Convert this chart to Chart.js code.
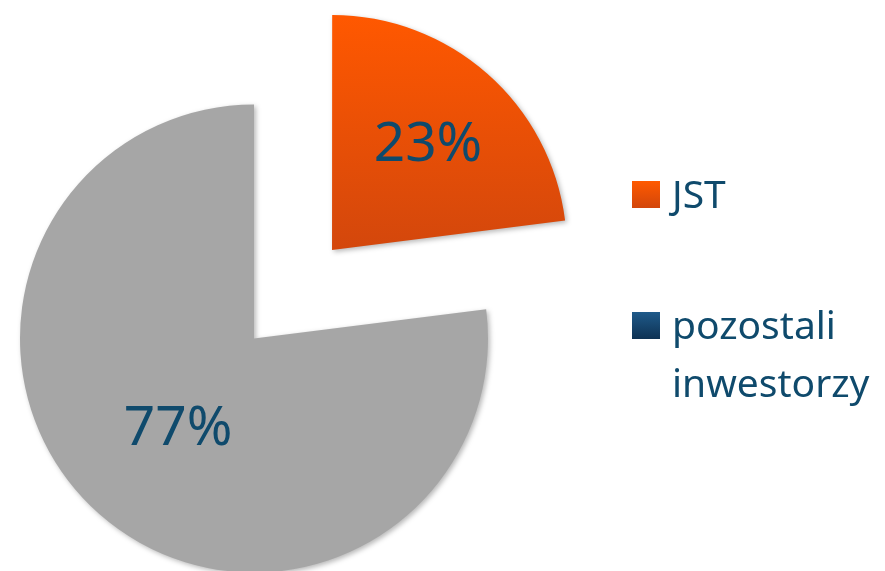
<!DOCTYPE html>
<html>
<head>
<meta charset="utf-8">
<script src="https://cdn.jsdelivr.net/npm/chart.js@4"></script>
<style>
  html, body { margin: 0; padding: 0; background: #fff; }
  #wrap { width: 885px; height: 571px; }
</style>
</head>
<body>
<div id="wrap"><canvas id="pie" width="885" height="571"></canvas></div>
<script>
// data
const categories = ['JST', 'pozostali inwestorzy'];
const shares = [23, 77];
const percentLabels = ['23%', '77%'];

// styling
const sliceTop = ['#FF5800', '#A6A6A6'];
const sliceBottom = ['#D3470C', '#A6A6A6'];
const legendColors = [['#FF5A00', '#D2460B'], ['#1F5A8A', '#0E3253']];
const textColor = '#0F4A6C';
const pieRadius = 234;
const explode = [118, 0];      // px the slice is pulled out
const labelDepth = [0.62, 0.49]; // label distance as part of radius

const labelPlugin = {
  id: 'sliceLabels',
  beforeDatasetsDraw(chart) {
    const ctx = chart.ctx;
    ctx.save();
    ctx.shadowColor = 'rgba(0,0,0,0.28)';
    ctx.shadowBlur = 5;
    ctx.shadowOffsetX = 2;
    ctx.shadowOffsetY = 2;
  },
  afterDatasetsDraw(chart) {
    const ctx = chart.ctx;
    ctx.restore();
    const meta = chart.getDatasetMeta(0);
    ctx.save();
    ctx.font = '55px "Noto Sans"';
    ctx.fillStyle = textColor;
    ctx.textAlign = 'center';
    ctx.textBaseline = 'alphabetic';
    meta.data.forEach((arc, i) => {
      const mid = (arc.startAngle + arc.endAngle) / 2;
      const r = arc.outerRadius * labelDepth[i] + explode[i];
      ctx.fillText(percentLabels[i], arc.x + Math.cos(mid) * r, arc.y + Math.sin(mid) * r + 20);
    });
    ctx.restore();
  }
};

const legendPlugin = {
  id: 'sideLegend',
  afterDraw(chart) {
    const ctx = chart.ctx;
    const boxX = 632, textX = 672, lineH = 58, maxW = 205;
    let baseY = 208;
    ctx.save();
    ctx.font = '39px "Noto Sans"';
    ctx.textBaseline = 'alphabetic';
    ctx.textAlign = 'left';
    categories.forEach((name, i) => {
      // wrap words
      const lines = [];
      let cur = '';
      name.split(' ').forEach(w => {
        const test = cur ? cur + ' ' + w : w;
        if (cur && ctx.measureText(test).width > maxW) { lines.push(cur); cur = w; }
        else cur = test;
      });
      lines.push(cur);

      const g = ctx.createLinearGradient(0, baseY - 27, 0, baseY);
      g.addColorStop(0, legendColors[i][0]);
      g.addColorStop(1, legendColors[i][1]);
      ctx.fillStyle = g;
      ctx.fillRect(boxX, baseY - 27, 28, 27);

      ctx.fillStyle = textColor;
      lines.forEach((ln, k) => ctx.fillText(ln, textX, baseY + k * lineH));
      baseY += 131;
    });
    ctx.restore();
  }
};

const chart = new Chart(document.getElementById('pie'), {
  type: 'pie',
  data: {
    labels: categories,
    datasets: [{
      data: shares,
      backgroundColor: (c) => {
        const ch = c.chart;
        const area = ch.chartArea;
        if (!area) return sliceTop[c.dataIndex];
        const cy = (area.top + area.bottom) / 2;
        const g = ch.ctx.createLinearGradient(0, cy - pieRadius, 0, c.dataIndex === 0 ? cy : cy + pieRadius);
        g.addColorStop(0, sliceTop[c.dataIndex]);
        g.addColorStop(1, sliceBottom[c.dataIndex]);
        return g;
      },
      borderWidth: 0,
      offset: explode.map(v => v * 4),
      hoverOffset: 0,
      clip: false
    }]
  },
  options: {
    responsive: false,
    devicePixelRatio: 1,
    animation: false,
    events: [],
    cutout: '0%',
    radius: pieRadius,
    layout: { padding: { left: 0, right: 377, top: 106, bottom: 0 } },
    plugins: {
      legend: { display: false },
      tooltip: { enabled: false }
    }
  },
  plugins: [labelPlugin, legendPlugin]
});
</script>
</body>
</html>
